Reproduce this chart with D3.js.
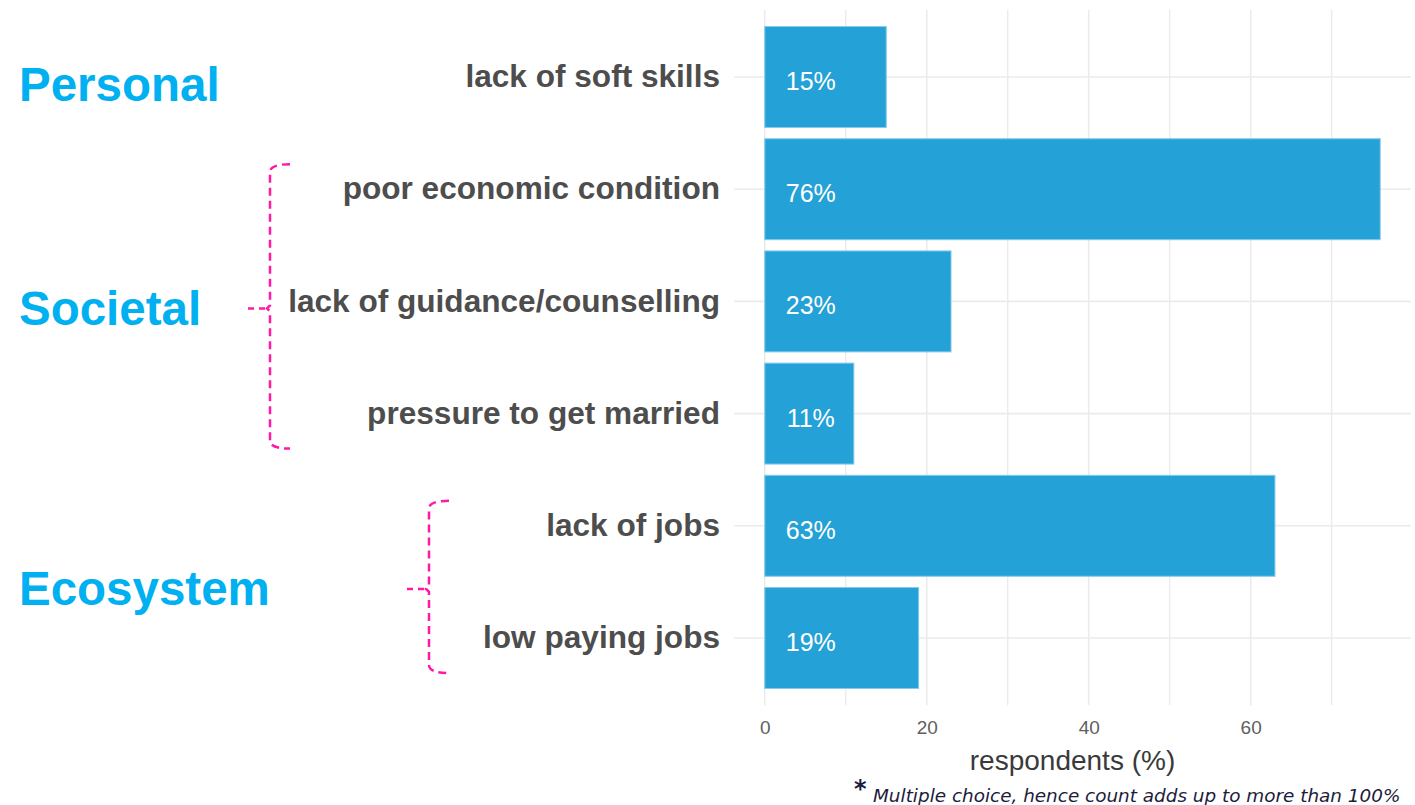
<!DOCTYPE html>
<html>
<head>
<meta charset="utf-8">
<script src="https://cdn.jsdelivr.net/npm/d3@7/dist/d3.min.js"></script>
<style>
  html, body { margin: 0; padding: 0; background: #ffffff; }
  svg { display: block; }
</style>
</head>
<body>
<svg id="chart" width="1415" height="805"></svg>
<script>
// Reasons for dropping out, grouped into three themes
const categories = [
  "lack of soft skills",
  "poor economic condition",
  "lack of guidance/counselling",
  "pressure to get married",
  "lack of jobs",
  "low paying jobs"
];
const values = [15, 76, 23, 11, 63, 19];
const groupNames = ["Personal", "Societal", "Ecosystem"];
const groupOfCategory = [0, 1, 1, 1, 2, 2];
const majorTicks = [0, 20, 40, 60];
const minorTicks = [10, 30, 50, 70];
const axisTitle = "respondents (%)";
const footnote = "Multiple choice, hence count adds up to more than 100%";

const svg = d3.select("#chart");

const panel = { left: 734, right: 1411, top: 9.7, bottom: 705.3 };
const xMax = d3.max(values);
const pad = xMax * 0.05;

const x = d3.scaleLinear()
  .domain([-pad, xMax + pad])
  .range([panel.left, panel.right]);

const y = d3.scaleBand()
  .domain(categories)
  .range([panel.top, panel.bottom])
  .paddingInner(0.1)
  .paddingOuter(0.15);

const gridColor = "#ebebeb";

// grid
const grid = svg.append("g");
grid.selectAll("line.minor")
  .data(minorTicks)
  .join("line")
  .attr("class", "minor")
  .attr("x1", d => x(d)).attr("x2", d => x(d))
  .attr("y1", panel.top).attr("y2", panel.bottom)
  .attr("stroke", gridColor).attr("stroke-width", 1.4);
grid.selectAll("line.major")
  .data(majorTicks)
  .join("line")
  .attr("class", "major")
  .attr("x1", d => x(d)).attr("x2", d => x(d))
  .attr("y1", panel.top).attr("y2", panel.bottom)
  .attr("stroke", gridColor).attr("stroke-width", 1.6);
grid.selectAll("line.hgrid")
  .data(categories)
  .join("line")
  .attr("class", "hgrid")
  .attr("x1", panel.left).attr("x2", panel.right)
  .attr("y1", d => y(d) + y.bandwidth() / 2)
  .attr("y2", d => y(d) + y.bandwidth() / 2)
  .attr("stroke", gridColor).attr("stroke-width", 1.6);

// bars
const rows = categories.map((c, i) => ({ c, v: values[i] }));
svg.append("g").selectAll("rect")
  .data(rows)
  .join("rect")
  .attr("x", x(0))
  .attr("y", d => y(d.c))
  .attr("width", d => x(d.v) - x(0))
  .attr("height", y.bandwidth())
  .attr("fill", "#24a1d7")
  .attr("stroke", "#86cbeb")
  .attr("stroke-width", 1);

// value labels inside bars
svg.append("g").selectAll("text")
  .data(rows)
  .join("text")
  .attr("x", x(0) + 46)
  .attr("y", d => y(d.c) + y.bandwidth() / 2 + 4)
  .attr("text-anchor", "middle")
  .attr("dominant-baseline", "central")
  .attr("font-family", "'Liberation Sans', Arial, sans-serif")
  .attr("font-size", 25)
  .attr("fill", "#ffffff")
  .text(d => d.v + "%");

// category axis
const yAxis = svg.append("g")
  .attr("transform", `translate(${panel.left},0)`)
  .call(d3.axisLeft(y).tickSize(0).tickPadding(14));
yAxis.select(".domain").remove();
yAxis.selectAll("text")
  .attr("font-family", "'Liberation Sans', Arial, sans-serif")
  .attr("font-weight", "bold")
  .attr("font-size", 31.6)
  .attr("fill", "#4d4d4d");

// value axis
const xAxis = svg.append("g")
  .attr("transform", `translate(0,${panel.bottom})`)
  .call(d3.axisBottom(x).tickValues(majorTicks).tickSize(0).tickPadding(15));
xAxis.select(".domain").remove();
xAxis.selectAll("text")
  .attr("font-family", "'Liberation Sans', Arial, sans-serif")
  .attr("font-size", 19)
  .attr("fill", "#606060");

svg.append("text")
  .attr("x", (panel.left + panel.right) / 2)
  .attr("y", 770)
  .attr("text-anchor", "middle")
  .attr("font-family", "'Liberation Sans', Arial, sans-serif")
  .attr("font-size", 28)
  .attr("fill", "#3a3a3a")
  .text(axisTitle);

// footnote
const fn = svg.append("text")
  .attr("x", 854)
  .attr("y", 802)
  .attr("font-family", "'DejaVu Sans', Verdana, sans-serif")
  .attr("fill", "#1c1c3c");
fn.append("tspan")
  .attr("font-size", 24)
  .attr("font-weight", "bold")
  .attr("dy", -5)
  .text("*");
fn.append("tspan")
  .attr("x", 873)
  .attr("dy", 5)
  .attr("font-size", 18.4)
  .attr("font-style", "italic")
  .text(footnote);

// group labels and brackets
const groupColor = "#00b0f0";
const bracketColor = "#ff19a6";
const bracketX = [null, 270, 429];

groupNames.forEach((name, gi) => {
  const members = categories.filter((c, i) => groupOfCategory[i] === gi);
  const firstC = y(members[0]) + y.bandwidth() / 2;
  const lastC = y(members[members.length - 1]) + y.bandwidth() / 2;
  const mid = (firstC + lastC) / 2 + 7;

  svg.append("text")
    .attr("x", 19)
    .attr("y", mid)
    .attr("dominant-baseline", "central")
    .attr("font-family", "'Liberation Sans', Arial, sans-serif")
    .attr("font-weight", "bold")
    .attr("font-size", 47.5)
    .attr("fill", groupColor)
    .text(name);

  const bx = bracketX[gi];
  if (bx != null) {
    const top = firstC - 25;
    const bot = lastC + 35;
    const p = d3.path();
    p.moveTo(bx + 20, top);
    p.quadraticCurveTo(bx, top, bx, top + 8);
    p.lineTo(bx, mid - 3);
    p.lineTo(bx - 3, mid);
    p.lineTo(bx, mid + 3);
    p.lineTo(bx, bot - 8);
    p.quadraticCurveTo(bx, bot, bx + 20, bot);
    svg.append("path")
      .attr("d", p.toString())
      .attr("fill", "none")
      .attr("stroke", bracketColor)
      .attr("stroke-width", 2.5)
      .attr("stroke-dasharray", "8,5");
    svg.append("line")
      .attr("x1", bx - 22).attr("x2", bx - 3)
      .attr("y1", mid).attr("y2", mid)
      .attr("stroke", bracketColor)
      .attr("stroke-width", 2.5)
      .attr("stroke-dasharray", "6,5");
  }
});
</script>
</body>
</html>
